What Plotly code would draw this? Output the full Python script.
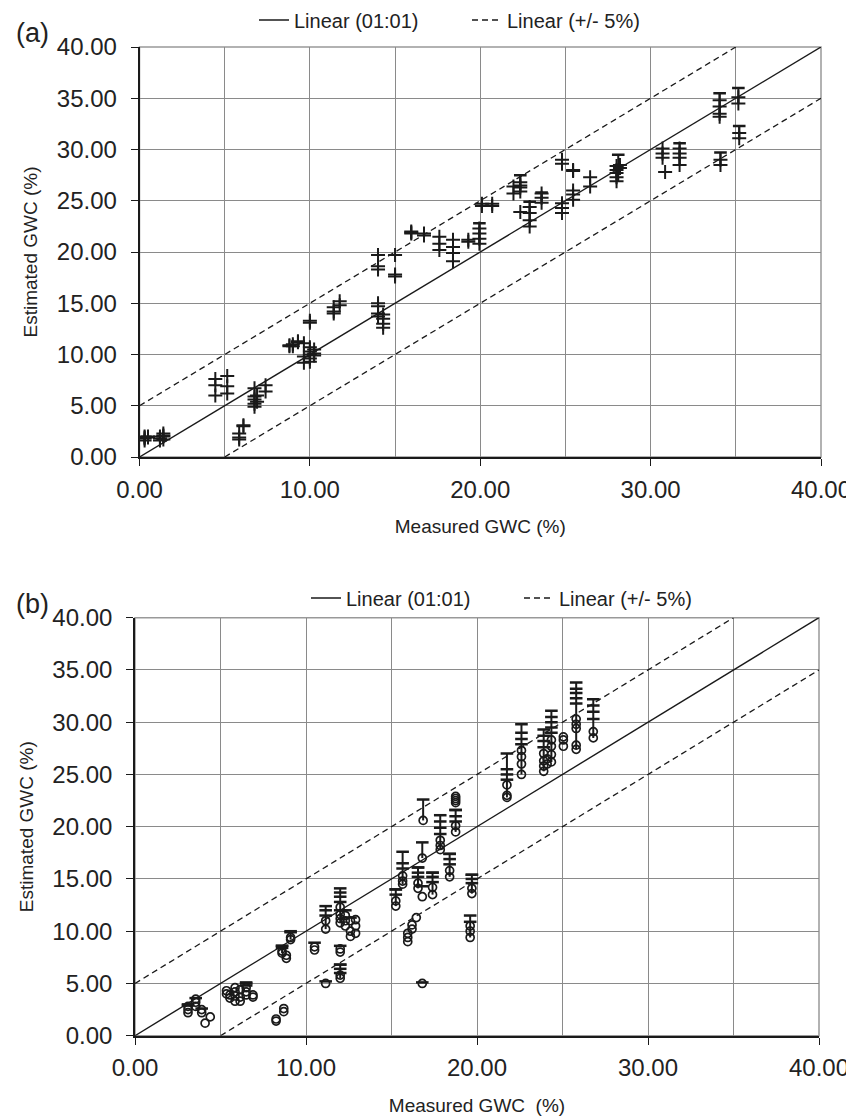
import plotly.graph_objects as go

# the page adds an 8px body margin, so the figure is 8px smaller than the window
PAGE = 8
W, H = 854 - PAGE, 1118 - PAGE
FONT = "Liberation Sans, Arial, sans-serif"
INK = "#1a1a1a"
GRID = "#8a8a8a"

# ---------------- panel (a) data ----------------
a_x = [0.3, 0.3, 0.3, 0.3, 0.5, 0.5,
       1.2, 1.2, 1.2, 1.4, 1.4, 1.4, 1.4,
       4.45, 4.45, 4.45, 5.15, 5.15, 5.15,
       5.85, 5.85, 5.85, 6.1, 6.1,
       6.75, 6.75, 6.75, 6.75, 6.75, 6.9, 6.9, 7.4, 7.4,
       8.8, 8.8, 9.0, 9.0, 9.3, 9.3, 9.65, 9.65, 9.65,
       10.0, 10.0, 10.0, 10.0, 10.0, 10.0, 10.0, 10.25, 10.25, 10.25,
       11.4, 11.4, 11.4, 11.75, 11.75,
       14.0, 14.0, 14.0, 14.0, 14.0, 14.0, 14.0, 14.3, 14.3, 14.3, 14.3,
       15.0, 15.0, 15.0,
       15.95, 15.95, 15.95, 16.7, 16.7,
       17.6, 17.6, 17.6, 18.4, 18.4, 18.4, 18.4, 19.3, 19.3,
       19.95, 19.95, 19.95, 19.95, 20.1, 20.1, 20.7, 20.7,
       21.95, 21.95, 22.35, 22.35, 22.35, 22.35, 22.35,
       22.9, 22.9, 22.9, 22.9, 23.6, 23.6, 23.6,
       24.8, 24.8, 24.8, 24.8, 24.8, 25.45, 25.45, 25.45, 25.45, 25.45,
       26.45, 26.45, 28.0, 28.0, 28.0, 28.0, 28.0, 28.2, 28.2,
       30.7, 30.7, 30.7, 30.85, 31.7, 31.7, 31.7, 31.7,
       34.05, 34.05, 34.05, 34.05, 34.1, 34.1, 35.15, 35.15, 35.2, 35.2]
a_y = [1.6, 1.8, 2.0, 1.9, 2.0, 1.9,
       1.8, 2.0, 1.6, 2.3, 2.0, 1.7, 2.1,
       6.0, 7.0, 7.6, 6.2, 6.9, 7.9,
       1.7, 1.9, 2.3, 3.0, 3.1,
       4.9, 5.2, 5.6, 5.9, 6.7, 5.4, 6.0, 6.4, 7.0,
       10.8, 10.9, 10.8, 11.0, 11.2, 11.3, 11.1, 9.8, 9.2,
       13.3, 13.1, 10.7, 10.3, 10.0, 9.6, 9.3, 10.5, 10.1, 9.9,
       14.0, 14.2, 14.6, 14.8, 15.2,
       19.7, 18.6, 18.3, 15.0, 14.7, 14.0, 13.7, 13.9, 13.5, 13.0, 12.6,
       19.7, 17.8, 17.6,
       21.9, 22.0, 21.8, 21.8, 21.6,
       21.5, 20.8, 20.2, 21.2, 20.5, 19.9, 19.1, 21.2, 21.0,
       22.3, 21.8, 21.3, 20.8, 24.7, 24.5, 24.7, 24.5,
       26.4, 25.7, 26.8, 26.3, 25.9, 26.5, 23.9,
       24.4, 23.8, 23.1, 22.5, 25.7, 25.3, 24.8,
       29.0, 28.6, 24.75, 24.3, 23.8, 28.0, 27.9, 26.0, 25.6, 25.1,
       27.3, 26.4, 28.4, 28.0, 27.7, 27.3, 26.9, 28.2, 28.5,
       30.1, 29.6, 29.2, 27.8, 30.1, 29.6, 29.2, 28.5,
       34.8, 34.2, 33.5, 33.2, 29.0, 28.5, 35.1, 34.5, 31.6, 31.1]
# error-bar style stems (lowest value -> cap)
a_bar_x = [19.95, 22.35, 22.9, 23.6, 28.1, 31.7, 34.05, 34.1, 35.15, 35.2]
a_bar_lo = [20.8, 25.9, 22.5, 24.8, 26.9, 28.5, 33.2, 28.5, 34.5, 31.1]
a_bar_hi = [22.8, 27.5, 24.9, 25.8, 29.5, 30.6, 35.5, 29.7, 36.0, 32.3]

# ---------------- panel (b) data ----------------
b_circ_x = [3.1, 3.1, 3.1, 3.55, 3.55, 3.55, 3.9, 3.9, 4.1, 4.4,
            5.35, 5.35, 5.55, 5.55, 5.85, 5.85, 5.85, 5.85, 6.15, 6.15, 6.15,
            6.5, 6.5, 6.5, 6.9, 6.9, 8.25, 8.25, 8.7, 8.7, 8.6, 8.6, 8.85, 8.85,
            9.1, 9.1, 10.5, 10.5, 11.15, 11.15, 11.15,
            12.0, 12.0, 12.0, 12.0, 12.0, 12.0, 12.0, 12.0,
            12.3, 12.3, 12.3, 12.6, 12.6, 12.6, 12.9, 12.9, 12.9,
            15.25, 15.25, 15.65, 15.65, 15.65, 15.95, 15.95, 15.95, 16.2, 16.2, 16.45,
            16.55, 16.55, 16.8, 16.8, 16.85, 16.8,
            17.4, 17.4, 17.85, 17.85, 17.85, 18.4, 18.4,
            18.75, 18.75, 18.75, 18.75, 18.75, 18.75,
            19.6, 19.6, 19.6, 19.7, 19.7,
            21.75, 21.75, 21.75, 22.6, 22.6, 22.6, 22.6,
            23.9, 23.9, 23.9, 23.9, 24.35, 24.35, 24.35, 24.35, 24.1, 24.1,
            25.05, 25.05, 25.05, 25.8, 25.8, 25.8, 25.8, 25.8, 26.8, 26.8]
b_circ_y = [2.2, 2.5, 2.8, 2.8, 3.2, 3.5, 2.2, 2.5, 1.2, 1.8,
            4.0, 4.3, 3.6, 3.9, 3.3, 3.8, 4.2, 4.6, 3.3, 3.7, 4.4,
            3.9, 4.2, 4.6, 3.7, 3.9, 1.4, 1.6, 2.3, 2.6, 7.9, 8.1, 7.4, 7.7,
            9.2, 9.4, 8.2, 8.5, 10.2, 11.0, 5.0,
            10.8, 11.2, 11.6, 12.3, 8.0, 8.3, 5.5, 5.8,
            10.5, 11.0, 11.5, 9.5, 10.0, 11.0, 9.8, 10.5, 11.1,
            12.4, 12.9, 14.5, 14.8, 15.3, 9.0, 9.4, 9.8, 10.2, 10.6, 11.3,
            14.1, 14.6, 13.3, 17.0, 20.6, 5.0,
            13.5, 14.2, 17.8, 18.2, 18.7, 15.2, 15.8,
            19.5, 20.1, 22.3, 22.5, 22.7, 22.9,
            9.4, 10.0, 10.5, 13.6, 14.1,
            22.8, 23.0, 24.0, 25.0, 26.0, 26.7, 27.3,
            25.3, 25.8, 26.3, 27.0, 26.2, 26.9, 27.7, 28.3, 26.0, 26.5,
            27.7, 28.3, 28.6, 27.4, 27.8, 29.4, 29.8, 30.3, 28.5, 29.1]
b_dash_x = [3.1, 3.1, 3.55, 3.9, 6.5, 6.5, 6.5, 8.6, 8.6, 9.1, 10.5,
            11.15, 11.15, 11.15, 12.0, 12.0, 12.0, 12.0, 12.0, 12.0, 12.0, 12.0,
            12.3, 12.6, 15.25, 15.25, 15.65, 15.65, 16.55, 16.55, 16.55, 16.8, 16.8,
            17.4, 17.4, 17.4, 17.85, 17.85, 17.85, 18.4, 18.4, 18.4,
            18.75, 18.75, 18.75, 19.6, 19.7, 19.7, 19.7,
            21.75, 21.75, 21.75, 22.6, 22.6, 22.6, 23.9, 23.9, 23.9,
            24.35, 24.35, 24.35, 24.35, 25.8, 25.8, 25.8, 25.8, 26.8, 26.8, 26.8]
b_dash_y = [2.9, 3.0, 3.6, 2.6, 4.8, 5.0, 5.1, 8.4, 8.6, 9.9, 8.9,
            11.5, 12.0, 5.2, 12.8, 13.3, 13.7, 8.6, 6.0, 6.4, 6.8, 12.0,
            12.0, 11.3, 13.5, 14.0, 16.0, 16.5, 15.2, 15.6, 16.1, 14.3, 5.1,
            14.7, 15.2, 15.6, 19.3, 19.9, 20.5, 16.4, 16.9, 17.4,
            20.5, 21.0, 21.6, 10.9, 14.6, 15.0, 15.4,
            24.5, 25.0, 25.5, 27.9, 28.4, 29.0, 27.6, 28.2, 28.7,
            29.0, 29.5, 30.0, 30.5, 31.8, 32.3, 32.8, 33.2, 30.3, 31.0, 31.6]
b_bar_x = [9.1, 11.15, 12.0, 15.25, 15.65, 16.55, 16.8, 16.85, 17.4, 17.85, 18.4,
           18.75, 19.6, 19.7, 21.75, 22.6, 23.9, 24.35, 25.8, 26.8, 12.0, 8.6]
b_bar_lo = [9.2, 10.2, 10.8, 12.4, 14.5, 14.1, 17.0, 20.6, 13.5, 17.8, 15.2,
            19.5, 9.4, 13.6, 22.8, 25.0, 25.3, 26.2, 27.4, 28.5, 5.5, 7.9]
b_bar_hi = [10.0, 12.4, 14.1, 14.0, 17.6, 16.1, 18.5, 22.6, 15.6, 21.1, 17.4,
            21.6, 11.5, 15.4, 27.0, 29.8, 29.3, 31.1, 33.8, 32.2, 6.8, 8.6]

# reference lines: 1:1 and +/- 5 offsets over the axis range
ref_x = [0, 40]
offset = 5

fig = go.Figure()


def stems(xs, lo, hi):
    sx, sy = [], []
    for x, l, h in zip(xs, lo, hi):
        sx += [x, x, None]
        sy += [l, h, None]
    return sx, sy


def add_panel(xa, ya, leg):
    fig.add_trace(go.Scatter(x=ref_x, y=ref_x, mode="lines", name="Linear (01:01)",
                             line=dict(color=INK, width=1.4), xaxis=xa, yaxis=ya,
                             legend=leg, showlegend=True))
    fig.add_trace(go.Scatter(x=[ref_x[0], ref_x[1] - offset], y=[ref_x[0] + offset, ref_x[1]],
                             mode="lines", name="Linear (+/- 5%)",
                             line=dict(color=INK, width=1.3, dash="6px,4px"),
                             xaxis=xa, yaxis=ya, legend=leg, showlegend=True))
    fig.add_trace(go.Scatter(x=[ref_x[0] + offset, ref_x[1]], y=[ref_x[0], ref_x[1] - offset],
                             mode="lines", name="Linear (+/- 5%)",
                             line=dict(color=INK, width=1.3, dash="6px,4px"),
                             xaxis=xa, yaxis=ya, legend=leg, showlegend=False))


add_panel("x", "y", "legend")
add_panel("x2", "y2", "legend2")

# panel (a) marks
sx, sy = stems(a_bar_x, a_bar_lo, a_bar_hi)
fig.add_trace(go.Scatter(x=sx, y=sy, mode="lines", line=dict(color=INK, width=2),
                         showlegend=False, xaxis="x", yaxis="y", hoverinfo="skip"))
fig.add_trace(go.Scatter(x=a_bar_x, y=a_bar_hi, mode="markers", showlegend=False,
                         marker=dict(symbol="line-ew", size=9, color=INK,
                                     line=dict(color=INK, width=2.5)),
                         xaxis="x", yaxis="y"))
fig.add_trace(go.Scatter(x=a_x, y=a_y, mode="markers", showlegend=False,
                         marker=dict(symbol="cross-thin", size=10, color=INK,
                                     line=dict(color=INK, width=2)),
                         xaxis="x", yaxis="y"))

# panel (b) marks
sx, sy = stems(b_bar_x, b_bar_lo, b_bar_hi)
fig.add_trace(go.Scatter(x=sx, y=sy, mode="lines", line=dict(color=INK, width=2),
                         showlegend=False, xaxis="x2", yaxis="y2", hoverinfo="skip"))
fig.add_trace(go.Scatter(x=b_bar_x, y=b_bar_hi, mode="markers", showlegend=False,
                         marker=dict(symbol="line-ew", size=9, color=INK,
                                     line=dict(color=INK, width=2.5)),
                         xaxis="x2", yaxis="y2"))
fig.add_trace(go.Scatter(x=b_dash_x, y=b_dash_y, mode="markers", showlegend=False,
                         marker=dict(symbol="line-ew", size=9, color=INK,
                                     line=dict(color=INK, width=2.5)),
                         xaxis="x2", yaxis="y2"))
fig.add_trace(go.Scatter(x=b_circ_x, y=b_circ_y, mode="markers", showlegend=False,
                         marker=dict(symbol="circle-open", size=8, color=INK,
                                     line=dict(color=INK, width=1.7)),
                         xaxis="x2", yaxis="y2"))

tickfont = dict(family=FONT, size=24, color="#222")
titlefont = dict(family=FONT, size=19, color="#222")


def xaxis(domain, anchor, title):
    return dict(domain=domain, anchor=anchor, range=[0, 40], tickvals=[0, 10, 20, 30, 40],
                tickformat=".2f", ticks="outside", ticklen=7, tickcolor=INK,
                ticklabelstandoff=3,
                showgrid=True, gridcolor=GRID, gridwidth=1,
                minor=dict(dtick=5, showgrid=True, gridcolor=GRID, gridwidth=1, ticks=""),
                showline=True, linecolor=INK, linewidth=1.6, zeroline=False,
                tickfont=tickfont, automargin=False,
                title=dict(text=title, font=titlefont, standoff=18))


def yaxis(domain, anchor, title):
    return dict(domain=domain, anchor=anchor, range=[0, 40], dtick=5,
                tickformat=".2f", ticks="outside", ticklen=7, tickcolor=INK,
                ticklabelstandoff=9,
                showgrid=True, gridcolor=GRID, gridwidth=1,
                showline=True, linecolor=INK, linewidth=1.6, zeroline=False,
                tickfont=tickfont, automargin=False,
                title=dict(text=title, font=titlefont, standoff=14))


def px_x(v):
    return (v - PAGE) / W


def px_y(v):
    return 1 - (v - PAGE) / H


fig.update_layout(
    width=W, height=H, template="none",
    margin=dict(l=0, r=0, t=0, b=0, autoexpand=False),
    paper_bgcolor="white", plot_bgcolor="white",
    xaxis=xaxis([px_x(139.5), px_x(821)], "y", "Measured GWC (%)"),
    yaxis=yaxis([px_y(457), px_y(47)], "x", "Estimated GWC (%)"),
    xaxis2=xaxis([px_x(135), px_x(819)], "y2", "Measured GWC \u00a0(%)"),
    yaxis2=yaxis([px_y(1035.7), px_y(617.7)], "x2", "Estimated GWC (%)"),
    legend=dict(orientation="h", x=px_x(254), y=px_y(20), xanchor="left", yanchor="middle",
                font=dict(family=FONT, size=20, color="#222"), bgcolor="rgba(0,0,0,0)",
                entrywidth=168, itemwidth=30),
    legend2=dict(orientation="h", x=px_x(306), y=px_y(598), xanchor="left", yanchor="middle",
                 font=dict(family=FONT, size=20, color="#222"), bgcolor="rgba(0,0,0,0)",
                 entrywidth=168, itemwidth=30),
    showlegend=True,
    shapes=[
        dict(type="rect", xref="x domain", yref="y domain", x0=0, x1=1, y0=0, y1=1,
             line=dict(color="#999", width=1.5), layer="below"),
        dict(type="rect", xref="x2 domain", yref="y2 domain", x0=0, x1=1, y0=0, y1=1,
             line=dict(color="#999", width=1.5), layer="below"),
    ],
    annotations=[
        dict(text="(a)", x=px_x(32), y=px_y(33), xref="paper", yref="paper",
             xanchor="center", yanchor="middle",
             showarrow=False, font=dict(family=FONT, size=27, color="#222")),
        dict(text="(b)", x=px_x(32), y=px_y(604), xref="paper", yref="paper",
             xanchor="center", yanchor="middle",
             showarrow=False, font=dict(family=FONT, size=27, color="#222")),
    ],
)

fig.write_html("out.html")
